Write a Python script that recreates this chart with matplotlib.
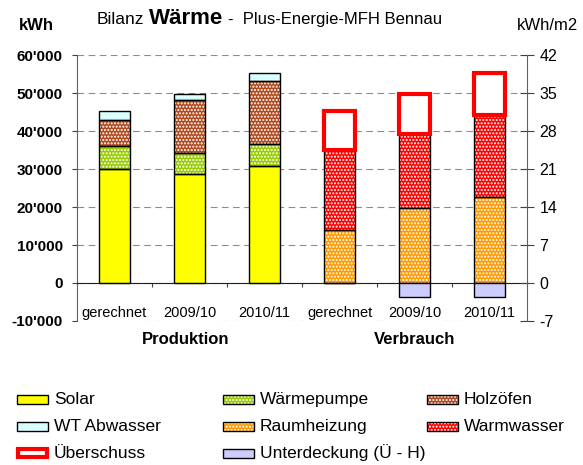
import numpy as np
import matplotlib
matplotlib.use('Agg')
import matplotlib.pyplot as plt
from matplotlib.patches import Rectangle
from matplotlib.ticker import FuncFormatter

plt.rcParams['font.family'] = ['Liberation Sans', 'DejaVu Sans']
plt.rcParams['hatch.linewidth'] = 1.0
plt.rcParams['axes.unicode_minus'] = False

# data (kWh)
kategorien = ['gerechnet', '2009/10', '2010/11']
gruppen = ['Produktion', 'Verbrauch']
solar = [30000, 28600, 30800]
waermepumpe = [6000, 5500, 5900]
holzoefen = [6800, 14000, 16400]
wt_abwasser = [2400, 1600, 2100]
raumheizung = [13900, 19800, 22700]
warmwasser = [21100, 19300, 21500]
ueberschuss = [10200, 10600, 11000]
unterdeckung = [0, -3800, -3800]

# colours
c_solar = '#FFFF00'
c_wp = '#99CC00'
c_holz = '#B04A1E'
c_wt = '#CCFFFF'
c_raum = '#FF9900'
c_warm = '#FF0000'
c_unter = '#CCCCFF'
punkte = '.....'

W, H = 583, 465
fig = plt.figure(figsize=(W / 100, H / 100), dpi=100)
ax = fig.add_axes([77 / W, 1 - 321 / H, 450 / W, 266 / H])

bw = 0.41
x_prod = np.arange(3)
x_verb = np.arange(3, 6)


def stack(x, vals, bottom, color, hatch=None):
    ax.bar(x, vals, bw, bottom=bottom, color=color, edgecolor='white',
           hatch=hatch, linewidth=0, zorder=2)
    ax.bar(x, vals, bw, bottom=bottom, fill=False, edgecolor='black',
           linewidth=1, zorder=3)


solar = np.array(solar)
waermepumpe = np.array(waermepumpe)
holzoefen = np.array(holzoefen)
raumheizung = np.array(raumheizung)
warmwasser = np.array(warmwasser)

stack(x_prod, solar, 0, c_solar)
stack(x_prod, waermepumpe, solar, c_wp, punkte)
stack(x_prod, holzoefen, solar + waermepumpe, c_holz, punkte)
stack(x_prod, wt_abwasser, solar + waermepumpe + holzoefen, c_wt, punkte)

stack(x_verb, raumheizung, 0, c_raum, punkte)
stack(x_verb, warmwasser, raumheizung, c_warm, punkte)
ax.bar(x_verb, ueberschuss, bw, bottom=raumheizung + warmwasser,
       facecolor='white', edgecolor='#FF0000', linewidth=3, zorder=3)
ax.bar(x_verb, unterdeckung, bw, color=c_unter, edgecolor='black',
       linewidth=1, zorder=3)

ax.set_xlim(-0.5, 5.5)
ax.set_ylim(-10000, 60000)
ax.set_yticks(np.arange(-10000, 60001, 10000))
ax.yaxis.set_major_formatter(FuncFormatter(lambda v, p: f"{v:,.0f}".replace(',', "'")))
for lab in ax.get_yticklabels():
    lab.set_fontweight('bold')
ax.tick_params(axis='y', direction='out', length=3.6, labelsize=11, pad=6.5,
               color='#404040')
ax.set_xticks(np.arange(0.5, 5, 1))
ax.set_xticklabels([])
ax.tick_params(axis='x', direction='out', length=3, color='#404040')
ax.spines['bottom'].set_position(('data', 0))
ax.spines['top'].set_visible(False)
ax.spines['right'].set_visible(False)
ax.spines['left'].set_color('#606060')
ax.spines['bottom'].set_color('#202020')
ax.set_axisbelow(True)
ax.yaxis.grid(True, linestyle=(0, (6, 4)), color='#8C8C8C', linewidth=0.8)

for i, k in enumerate(kategorien * 2):
    ax.text(i, -8000, k, ha='center', va='center', fontsize=10.5,
            bbox=dict(facecolor='white', edgecolor='none', pad=0.5), zorder=4)
ax.text(0.95, -15000, gruppen[0], ha='center', va='center', fontsize=12,
        fontweight='bold', clip_on=False)
ax.text(4.0, -15000, gruppen[1], ha='center', va='center', fontsize=12,
        fontweight='bold', clip_on=False)

# right axis kWh/m2
ax2 = ax.twinx()
ax2.set_ylim(-7, 42)
ax2.set_yticks(np.arange(-7, 43, 7))
ax2.tick_params(axis='y', direction='inout', length=10, labelsize=11.5,
                pad=4, color='#404040')
for s in ['left', 'top', 'bottom']:
    ax2.spines[s].set_visible(False)
ax2.spines['right'].set_color('#606060')

# titles
fig.text(36 / W, 1 - 25 / H, 'kWh', ha='center', va='center',
         fontsize=12, fontweight='bold')
fig.text(548 / W, 1 - 25 / H, 'kWh/m2', ha='center', va='center',
         fontsize=12)
ty = 1 - 24 / H
fig.text(97 / W, ty, 'Bilanz', ha='left', va='baseline', fontsize=12.5)
fig.text(149 / W, ty, 'Wärme', ha='left', va='baseline', fontsize=16,
         fontweight='bold')
fig.text(228 / W, ty, '-  Plus-Energie-MFH Bennau', ha='left', va='baseline',
         fontsize=12)

# legend
lax = fig.add_axes([0, 0, 1, 1], zorder=-1)
lax.set_xlim(0, W)
lax.set_ylim(H, 0)
lax.axis('off')
eintraege = [
    ('Solar', c_solar, None, 0, 0),
    ('Wärmepumpe', c_wp, punkte, 1, 0),
    ('Holzöfen', c_holz, punkte, 2, 0),
    ('WT Abwasser', c_wt, punkte, 0, 1),
    ('Raumheizung', c_raum, punkte, 1, 1),
    ('Warmwasser', c_warm, punkte, 2, 1),
    ('Überschuss', 'white', None, 0, 2),
    ('Unterdeckung (Ü - H)', c_unter, None, 1, 2),
]
col_x = [17, 223, 427]
row_y = [399, 426, 453]
for name, col, hatch, ci, ri in eintraege:
    x0, y0 = col_x[ci], row_y[ri]
    if name == 'Überschuss':
        lax.add_patch(Rectangle((x0 + 1, y0 - 4), 29, 8, facecolor='white',
                                edgecolor='#FF0000', linewidth=3))
    else:
        lax.add_patch(Rectangle((x0, y0 - 4.5), 31, 9, facecolor=col,
                                edgecolor='white', hatch=hatch, linewidth=0))
        lax.add_patch(Rectangle((x0, y0 - 4.5), 31, 9, fill=False,
                                edgecolor='black', linewidth=1))
    lax.text(x0 + 37, y0, name, ha='left', va='center', fontsize=12.5)

fig.savefig('out.png', dpi=100)
